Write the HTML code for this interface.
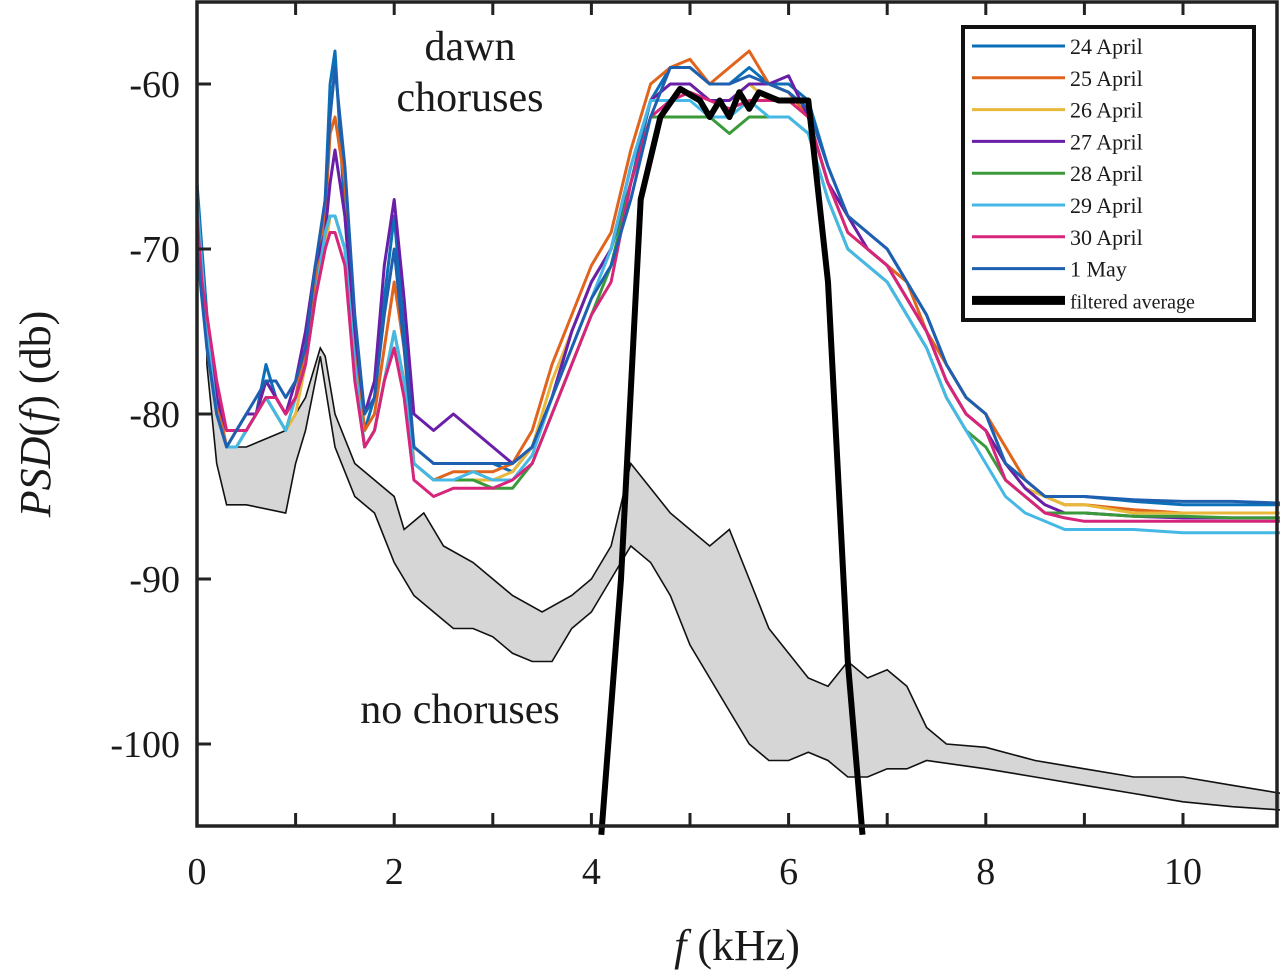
<!DOCTYPE html>
<html><head><meta charset="utf-8"><style>
html,body{margin:0;padding:0;background:#fff;}
svg{display:block;}
text{font-family:"Liberation Serif",serif;fill:#1a1a1a;}
</style></head><body>
<svg id="chart" width="1280" height="973" viewBox="0 0 1280 973" xmlns="http://www.w3.org/2000/svg">
<g id="band"></g>
<g id="series"></g>
<g id="avg"></g>
<rect x="197" y="2" width="1080" height="824" fill="none" stroke="#222" stroke-width="3.5"/>
<g id="ticks"></g>
<text x="470" y="60" font-size="42" text-anchor="middle">dawn</text>
<text x="470" y="111" font-size="42" text-anchor="middle">choruses</text>
<text x="460" y="723" font-size="42" text-anchor="middle">no choruses</text>
<text x="737" y="960" font-size="44" text-anchor="middle"><tspan font-style="italic">f</tspan> (kHz)</text>
<text transform="translate(50,414) rotate(-90)" font-size="44" text-anchor="middle"><tspan font-style="italic">PSD</tspan>(<tspan font-style="italic">f</tspan>) (db)</text>
<g>
<rect x="963" y="27" width="291" height="293" fill="#fff" stroke="#111" stroke-width="4"/>
<g id="legend"></g>
</g>
</svg>
<script>
const freqs=[0,0.05,0.1,0.2,0.3,0.4,0.5,0.6,0.7,0.8,0.9,1.0,1.1,1.2,1.3,1.35,1.4,1.5,1.6,1.7,1.8,1.9,2.0,2.1,2.2,2.4,2.6,2.8,3.0,3.2,3.4,3.6,3.8,4.0,4.2,4.4,4.6,4.8,5.0,5.2,5.4,5.6,5.8,6.0,6.2,6.4,6.6,6.8,7.0,7.2,7.4,7.6,7.8,8.0,8.2,8.4,8.6,8.8,9.0,9.5,10,10.5,11];
const seriesNames=["24 April","25 April","26 April","27 April","28 April","29 April","30 April","1 May"];
const seriesColors=["#0b6fb8","#e0641c","#e8b83a","#6a1fa8","#3a9a3a","#45b8e6","#d6257a","#1f5fb0"];
const s24=[-66,-70,-74,-79,-81,-81,-81,-80,-77,-79,-80,-79,-76,-72,-67,-60,-58,-68,-76,-81,-79,-73,-68,-75,-82,-83,-83,-83,-83,-83.5,-82,-79,-75,-72,-70,-66,-61,-59,-59,-60,-60,-59,-60,-60,-61,-65,-68,-69,-70,-72,-74,-77,-79,-80,-83,-84,-85,-85,-85,-85.3,-85.5,-85.5,-85.5];
const s25=[-68,-71,-75,-79,-82,-81,-81,-80,-78,-79,-80,-79,-76,-72,-68,-63,-62,-66,-75,-81,-80,-76,-72,-76,-83,-84,-83.5,-83.5,-83.5,-83,-81,-77,-74,-71,-69,-64,-60,-59,-58.5,-60,-59,-58,-60,-60.5,-62,-66,-68,-70,-71,-72,-75,-77,-79,-80,-82,-84,-85,-85.5,-85.5,-85.8,-86,-86,-86];
const s26=[-70,-72,-75,-80,-82,-82,-81,-80,-79,-80,-81,-80,-77,-73,-70,-68,-68,-70,-77,-82,-81,-78,-75,-78,-83,-84,-84,-84,-84,-83.5,-82,-78,-75,-72,-70,-65,-61,-60,-60,-61,-61,-60,-61,-61,-62,-66,-69,-70,-71,-73,-75,-78,-80,-81,-83,-84.5,-85,-85.5,-85.5,-86,-86,-86,-86];
const s27=[-68,-71,-75,-79,-81,-81,-80,-80,-78,-79,-80,-78,-75,-71,-69,-66,-64,-68,-75,-80,-78,-71,-67,-73,-80,-81,-80,-81,-82,-83,-82,-79,-75,-72,-70,-65,-61,-60,-60,-61,-61,-60,-60,-59.5,-62,-66,-68,-70,-71,-73,-75,-78,-80,-81,-83,-84.5,-85.5,-86,-86,-86.2,-86.3,-86.3,-86.3];
const s28=[-69,-72,-76,-80,-82,-82,-81,-80,-79,-80,-81,-79,-77,-73,-69,-68,-68,-70,-77,-82,-81,-78,-75,-78,-83,-84,-84,-84,-84.5,-84.5,-83,-80,-77,-74,-71,-66,-62,-62,-62,-62,-63,-62,-62,-62,-63,-67,-70,-71,-72,-74,-76,-79,-81,-82,-84,-85,-86,-86,-86,-86.2,-86.2,-86.3,-86.3];
const s29=[-67,-71,-75,-80,-82,-82,-81,-80,-79,-80,-81,-79,-77,-73,-69,-68,-68,-70,-77,-82,-81,-78,-75,-78,-83,-84,-84,-83.5,-84,-84,-82.5,-79,-76,-73,-70,-65,-61,-61,-61,-62,-62,-61,-62,-62,-63,-67,-70,-71,-72,-74,-76,-79,-81,-83,-85,-86,-86.5,-87,-87,-87,-87.2,-87.2,-87.2];
const s30=[-68,-72,-74,-78,-81,-81,-81,-80,-79,-79,-80,-79,-77,-73,-70,-69,-69,-71,-78,-82,-81,-78,-76,-79,-84,-85,-84.5,-84.5,-84.5,-84,-83,-80,-77,-74,-72,-66,-62,-61,-60.5,-61,-61.5,-61,-61,-61,-62,-66,-69,-70,-71,-73,-75,-78,-80,-81,-84,-85,-86,-86.3,-86.5,-86.5,-86.5,-86.5,-86.5];
const s1m=[-70,-73,-76,-80,-82,-81,-80,-79,-78,-78,-79,-78,-76,-71,-67,-62,-59,-65,-74,-80,-79,-74,-70,-76,-82,-83,-83,-83,-83,-83,-82,-79,-76,-73,-71,-67,-62,-59,-59,-60,-60,-59.5,-60,-60.5,-61.5,-65,-68,-69,-70,-72,-74,-77,-79,-80,-83,-84,-85,-85,-85,-85.2,-85.3,-85.3,-85.4];
const seriesValues=[s24,s25,s26,s27,s28,s29,s30,s1m];
const bandUpperF=[0.1,0.2,0.3,0.5,0.9,1.1,1.25,1.3,1.4,1.6,1.8,2.0,2.1,2.3,2.5,2.8,3.0,3.2,3.5,3.8,4.0,4.2,4.4,4.6,4.8,5.0,5.2,5.4,5.6,5.8,6.0,6.2,6.4,6.6,6.8,7.0,7.2,7.4,7.6,8.0,8.5,9.0,9.5,10,10.5,11];
const bandUpper=[-76,-80,-82,-82,-81,-79,-76,-76.5,-80,-83,-84,-85,-87,-86,-88,-89,-90,-91,-92,-91,-90,-88,-83,-84.5,-86,-87,-88,-87,-90,-93,-94.5,-96,-96.5,-95,-96,-95.5,-96.5,-99,-100,-100.2,-101,-101.5,-102,-102,-102.5,-103];
const bandLowerF=[0.1,0.2,0.3,0.5,0.9,1.0,1.1,1.25,1.4,1.6,1.8,2.0,2.2,2.4,2.6,2.8,3.0,3.2,3.4,3.6,3.8,4.0,4.2,4.4,4.6,4.8,5.0,5.2,5.4,5.6,5.8,6.0,6.2,6.4,6.6,6.8,7.0,7.2,7.4,8.0,8.5,9.0,9.5,10,10.5,11];
const bandLower=[-77,-83,-85.5,-85.5,-86,-83,-81,-76.5,-82,-85,-86,-89,-91,-92,-93,-93,-93.5,-94.5,-95,-95,-93,-92,-90,-88,-89,-91,-94,-96,-98,-100,-101,-101,-100.5,-101,-102,-102,-101.5,-101.5,-101,-101.5,-102,-102.5,-103,-103.5,-103.8,-104];
const avgF=[4.1,4.3,4.5,4.7,4.9,5.1,5.2,5.3,5.4,5.5,5.6,5.7,5.9,6.1,6.2,6.4,6.6,6.75];
const avgV=[-105.5,-90,-67,-62,-60.3,-61,-62,-61,-62,-60.5,-61.5,-60.5,-61,-61,-61,-72,-95,-105.5];
const xTicks=[0,2,4,6,8,10];
const yTicks=[-60,-70,-80,-90,-100];

const X0=197,PXK=98.6;
function xs(f){return X0+f*PXK;}
function ys(v){return 84-(v+60)*16.5;}
const NS="http://www.w3.org/2000/svg";
function mk(tag,attrs,parent){const e=document.createElementNS(NS,tag);for(const k in attrs)e.setAttribute(k,attrs[k]);parent.appendChild(e);return e;}

let d="M"+bandUpperF.map((f,i)=>xs(f).toFixed(1)+","+ys(bandUpper[i]).toFixed(1)).join("L");
for(let i=bandLowerF.length-1;i>=0;i--)d+="L"+xs(bandLowerF[i]).toFixed(1)+","+ys(bandLower[i]).toFixed(1);
d+="Z";
const bandEl=mk("path",{d:d,fill:"#d6d6d6",stroke:"#111","stroke-width":1.6},document.getElementById("band"));



const sg=document.getElementById("series");
seriesValues.forEach((vals,si)=>{
  const p=mk("polyline",{points:vals.map((v,i)=>xs(freqs[i]).toFixed(1)+","+ys(v).toFixed(1)).join(" "),fill:"none",stroke:seriesColors[si],"stroke-width":3,"stroke-linejoin":"round"},sg);
  
  
});
const ap=mk("polyline",{points:avgF.map((f,i)=>xs(f).toFixed(1)+","+ys(avgV[i]).toFixed(1)).join(" "),fill:"none",stroke:"#000","stroke-width":6,"stroke-linejoin":"round"},document.getElementById("avg"));



const tg=document.getElementById("ticks");
for(let f=1;f<=10;f++){
  mk("line",{x1:xs(f),x2:xs(f),y1:826,y2:813,stroke:"#222","stroke-width":3},tg);
  mk("line",{x1:xs(f),x2:xs(f),y1:2,y2:15,stroke:"#222","stroke-width":3},tg);
}
xTicks.forEach(t=>{
  const tx=mk("text",{x:xs(t),y:884,"font-size":38,"text-anchor":"middle"},tg);
  tx.textContent=t;
  
  
});
yTicks.forEach(t=>{
  mk("line",{x1:197,x2:211,y1:ys(t),y2:ys(t),stroke:"#222","stroke-width":3},tg);
  const ty=mk("text",{x:180,y:ys(t)+13,"font-size":38,"text-anchor":"end"},tg);
  ty.textContent=t;
  
  
});

const lg=document.getElementById("legend");
const labels=seriesNames.concat(["filtered average"]);
labels.forEach((n,i)=>{
  const y=46+i*31.8;
  const isAvg=i===8;
  const ln=mk("line",{x1:972,x2:1065,y1:y,y2:y,stroke:isAvg?"#000":seriesColors[i],"stroke-width":isAvg?9:3},lg);
  
  
  const t=mk("text",{x:1070,y:y+8,"font-size":isAvg?20:22},lg);
  t.textContent=n;
  
  
});
</script>
</body></html>
